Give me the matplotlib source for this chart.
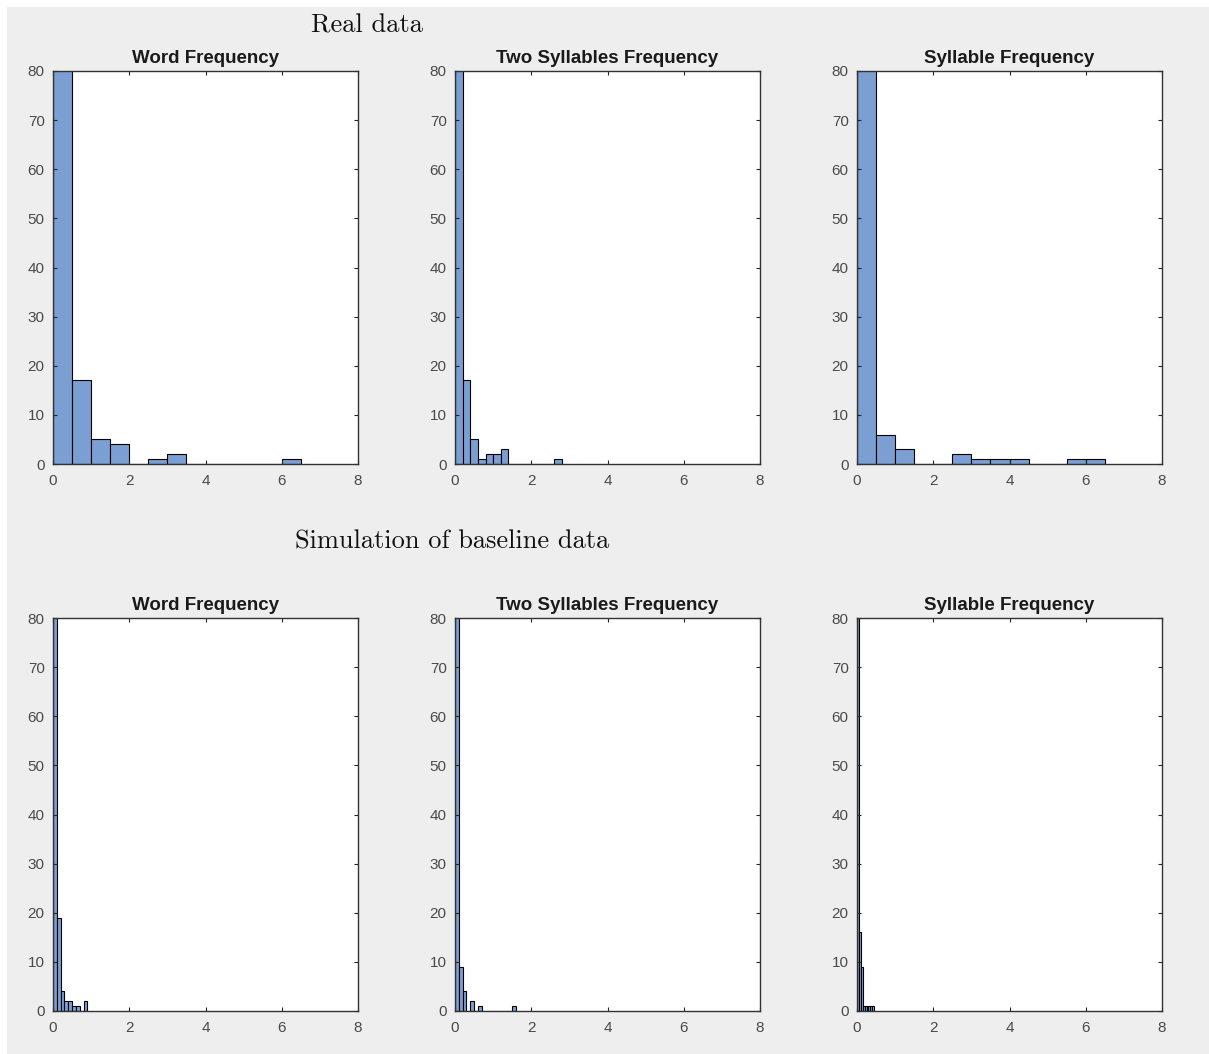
import numpy as np
import matplotlib.pyplot as plt
from matplotlib.patches import Rectangle

# Histogram counts (first bin runs past the 80 limit)
titles = ["Word Frequency", "Two Syllables Frequency", "Syllable Frequency"]

real_word_width = 0.5
real_word_counts = [120, 17, 5, 4, 0, 1, 2, 0, 0, 0, 0, 0, 1]
real_two_width = 0.2
real_two_counts = [120, 17, 5, 1, 2, 2, 3, 0, 0, 0, 0, 0, 0, 1]
real_syl_width = 0.5
real_syl_counts = [120, 6, 3, 0, 0, 2, 1, 1, 1, 0, 0, 1, 1]

sim_word_width = 0.1
sim_word_counts = [120, 19, 4, 2, 2, 1, 1, 0, 2]
sim_two_width = 0.1
sim_two_counts = [120, 9, 4, 0, 2, 0, 1, 0, 0, 0, 0, 0, 0, 0, 0, 1]
sim_syl_width = 0.05
sim_syl_counts = [120, 16, 9, 1, 1, 1, 1, 1, 1]

rows = [
    [(real_word_width, real_word_counts), (real_two_width, real_two_counts), (real_syl_width, real_syl_counts)],
    [(sim_word_width, sim_word_counts), (sim_two_width, sim_two_counts), (sim_syl_width, sim_syl_counts)],
]
row_titles = ["Real data", "Simulation of baseline data"]

W, H = 1209, 1054
fig = plt.figure(figsize=(W / 100, H / 100), dpi=100, facecolor="white")
# MATLAB-style grey window background
fig.patches.append(Rectangle((7 / W, 0), 1, 1 - 7 / H, transform=fig.transFigure,
                             facecolor="#eeeeee", edgecolor="none", zorder=-10))

bar_color = "#7b9fd2"
text_color = "#4a4a4a"
lefts = [53, 455, 857]
tops = [71, 618]
ax_w, ax_h = 305, 393

for r, row in enumerate(rows):
    for c, (width, counts) in enumerate(row):
        ax = fig.add_axes([lefts[c] / W, 1 - (tops[r] + ax_h) / H, ax_w / W, ax_h / H])
        counts = np.array(counts)
        edges = np.arange(len(counts)) * width
        ax.bar(edges, counts, width=width, align="edge", color=bar_color,
               edgecolor="black", linewidth=0.8)
        ax.set_xlim(0, 8)
        ax.set_ylim(0, 80)
        ax.set_xticks(np.arange(0, 9, 2))
        ax.set_yticks(np.arange(0, 81, 10))
        ax.tick_params(direction="in", length=3, width=0.8, top=True, right=True,
                       labelsize=11, labelcolor=text_color, color="#262626")
        ax.tick_params(axis="x", pad=7)
        ax.tick_params(axis="y", pad=6)
        for s in ax.spines.values():
            s.set_color("#333333")
            s.set_linewidth(1.0)
        ax.set_title(titles[c], fontsize=13.5, fontweight="bold", color="#1a1a1a",
                     family="Liberation Sans", pad=6)
        for lab in ax.get_xticklabels() + ax.get_yticklabels():
            lab.set_family("Liberation Sans")

# Row headings in a LaTeX-like serif
fig.text(367 / W, 1 - 26 / H, row_titles[0], ha="center", va="center",
         family="cmr10", fontsize=19, color="#111111")
fig.text(452 / W, 1 - 542 / H, row_titles[1], ha="center", va="center",
         family="cmr10", fontsize=19, color="#111111")

fig.savefig("out.png", dpi=100, facecolor=fig.get_facecolor())
